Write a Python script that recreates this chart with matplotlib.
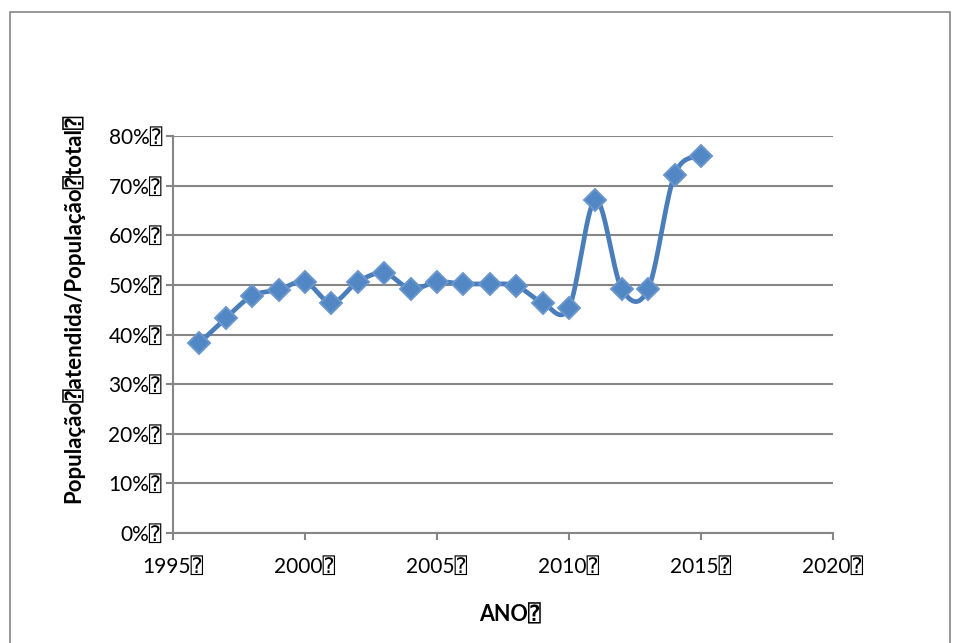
import numpy as np
import matplotlib
matplotlib.use("Agg")
from matplotlib import pyplot as plt
from matplotlib.patches import Rectangle
from matplotlib.ticker import FuncFormatter

# dados
anos = [1996, 1997, 1998, 1999, 2000, 2001, 2002, 2003, 2004, 2005,
        2006, 2007, 2008, 2009, 2010, 2011, 2012, 2013, 2014, 2015]
atendida = [0.383, 0.433, 0.478, 0.490, 0.506, 0.464, 0.506, 0.524, 0.492, 0.506,
            0.502, 0.502, 0.498, 0.464, 0.454, 0.671, 0.492, 0.492, 0.722, 0.760]

BOX = "\u2370"
titulo_x = "ANO" + BOX
titulo_y = "População" + BOX + "atendida/População" + BOX + "total" + BOX

plt.rcParams['font.family'] = ['Lato', 'DejaVu Sans', 'DejaVu Sans Mono']

cinza = '#868686'
azul = '#4A7EBB'


# linha suavizada tipo excel (bezier pelos vizinhos)
def suaviza(x, y, n=30):
    x = np.asarray(x, float)
    y = np.asarray(y, float)
    px = np.concatenate([[x[0]], x, [x[-1]]])
    py = np.concatenate([[y[0]], y, [y[-1]]])
    xs, ys = [], []
    t = np.linspace(0, 1, n)
    for i in range(1, len(px) - 2):
        p0 = np.array([px[i], py[i]])
        p3 = np.array([px[i + 1], py[i + 1]])
        p1 = p0 + (np.array([px[i + 1], py[i + 1]]) - np.array([px[i - 1], py[i - 1]])) / 6
        p2 = p3 - (np.array([px[i + 2], py[i + 2]]) - np.array([px[i], py[i]])) / 6
        b = ((1 - t) ** 3)[:, None] * p0 + (3 * (1 - t) ** 2 * t)[:, None] * p1 \
            + (3 * (1 - t) * t ** 2)[:, None] * p2 + (t ** 3)[:, None] * p3
        xs.extend(b[:, 0])
        ys.extend(b[:, 1])
    return xs, ys


fig = plt.figure(figsize=(9.59, 6.43), dpi=100)
fig.patches.append(Rectangle((10 / 959, -0.01), 940 / 959, 1 - 12 / 643 + 0.01,
                             transform=fig.transFigure, fill=False,
                             edgecolor=cinza, linewidth=1.2))

ax = fig.add_axes([173 / 959, 1 - 533 / 643, 660 / 959, 397 / 643])

sx, sy = suaviza(anos, atendida)
ax.plot(sx, sy, color=azul, linewidth=3.4, solid_capstyle='round', zorder=3)
ax.plot(anos, atendida, linestyle='none', marker='D', markersize=11,
        markerfacecolor='#5187C4', markeredgecolor='#6A96CC', markeredgewidth=1.4, zorder=4)

ax.set_xlim(1995, 2020)
ax.set_ylim(0, 0.8)
ax.set_xticks(range(1995, 2021, 5))
ax.set_yticks(np.arange(0, 0.81, 0.1))
ax.xaxis.set_major_formatter(FuncFormatter(lambda v, p: f"{int(v)}" + BOX))
ax.yaxis.set_major_formatter(FuncFormatter(lambda v, p: f"{int(round(v * 100))}%" + BOX))

ax.grid(axis='y', color=cinza, linewidth=1.5)
ax.set_axisbelow(True)
for s in ['top', 'right']:
    ax.spines[s].set_visible(False)
for s in ['left', 'bottom']:
    ax.spines[s].set_color(cinza)
    ax.spines[s].set_linewidth(1.5)

ax.tick_params(axis='x', direction='out', length=5, width=1.5, color=cinza, pad=12, labelsize=15)
ax.tick_params(axis='y', direction='out', length=5, width=1.5, color=cinza, pad=3, labelsize=15)

ax.set_xlabel(titulo_x, fontsize=15.5, fontweight='bold')
ax.set_ylabel(titulo_y, fontsize=16, fontweight='bold')
ax.xaxis.set_label_coords(0.51, -0.18)
ax.yaxis.set_label_coords(-0.135, 0.565)

plt.savefig("out.png", dpi=100)
